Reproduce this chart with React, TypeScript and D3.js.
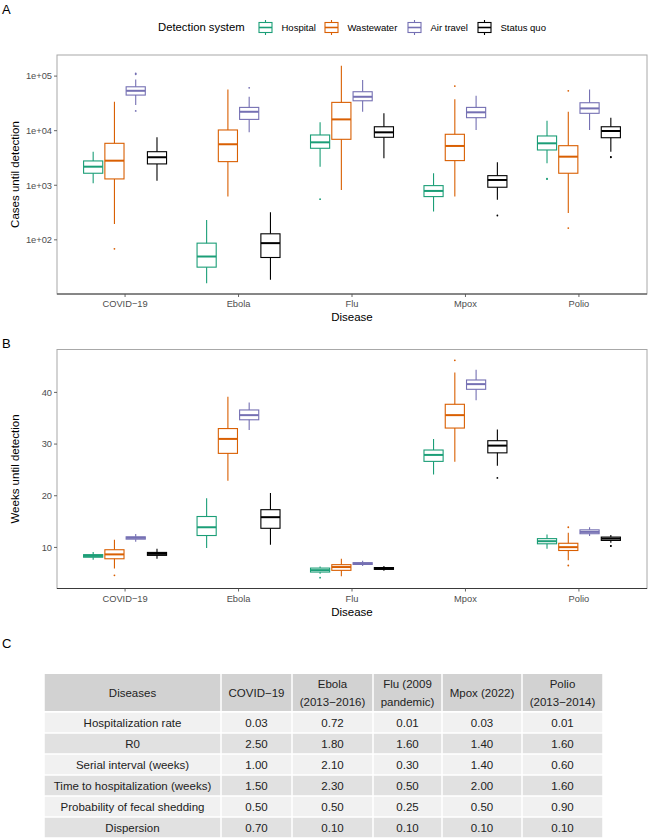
import * as d3 from 'd3';

// categories / series
const diseases = ['COVID−19', 'Ebola', 'Flu', 'Mpox', 'Polio'];
const systems = ['Hospital', 'Wastewater', 'Air travel', 'Status quo'];
const systemColors = ['#1B9E77', '#D95F02', '#7570B3', '#000000'];

// box stats per disease: [lower whisker, q1, median, q3, upper whisker]
const casesHospital = [[1090, 1660, 2190, 2790, 4120], [16.1, 31.6, 49.5, 87, 232], [2190, 4760, 6120, 8340, 14200], [330, 620, 787, 985, 1660], [2530, 4430, 5870, 8000, 15200]];
const casesWastewater = [[196, 1306, 2820, 5870, 33900], [620, 2710, 5640, 10300, 57100], [822, 6950, 16100, 33000, 154000], [620, 2830, 5250, 8590, 37500], [309, 1660, 3340, 5310, 22200]];
const casesAirTravel = [[29500, 44900, 53800, 63700, 87000], [9330, 16100, 22200, 26700, 41800], [22200, 35300, 41800, 51700, 84500], [10300, 17300, 21700, 26700, 43600], [10300, 20800, 25600, 32500, 57100]];
const casesStatusQuo = [[1215, 2460, 3260, 4120, 7570], [18.5, 47.5, 87, 129, 321], [3130, 7570, 9330, 11800, 20800], [540, 920, 1250, 1500, 2640], [4120, 7430, 9870, 11800, 17300]];

// outliers per disease
const casesOutHospital = [[], [], [556], [], [1300, 1320]];
const casesOutWastewater = [[68.6], [], [], [65700], [53800, 164]];
const casesOutAirTravel = [[112000, 108000, 23000], [61000], [], [], []];
const casesOutStatusQuo = [[], [], [], [279], [3260, 3300]];

const weeksHospital = [[7.6, 8.1, 8.35, 8.6, 9.1], [9.9, 12.3, 13.9, 15.98, 19.5], [4.9, 5.23, 5.6, 6.0, 6.3], [24.1, 26.65, 27.9, 28.85, 31.0], [9.75, 10.7, 11.2, 11.7, 12.5]];
const weeksWastewater = [[5.9, 7.8, 8.65, 9.55, 11.5], [22.9, 28.2, 31.0, 33.0, 39.15], [4.4, 5.56, 6.2, 6.66, 7.8], [26.6, 33.1, 35.6, 37.7, 43.85], [7.5, 9.4, 10.05, 10.8, 12.85]];
const weeksAirTravel = [[11.1, 11.6, 11.85, 12.05, 12.6], [32.7, 34.7, 35.6, 36.6, 38.05], [6.4, 6.7, 6.85, 7.05, 7.4], [38.5, 40.6, 41.6, 42.4, 44.4], [12.2, 12.65, 13.0, 13.4, 13.9]];
const weeksStatusQuo = [[7.8, 8.46, 8.75, 9.03, 9.75], [10.5, 13.7, 15.85, 17.3, 20.55], [5.5, 5.75, 5.9, 6.1, 6.4], [25.8, 28.3, 29.7, 30.65, 32.8], [10.9, 11.35, 11.7, 12.0, 12.4]];

const weeksOutHospital = [[], [], [4.15], [], []];
const weeksOutWastewater = [[4.6], [], [], [46.2], [6.5, 13.9]];
const weeksOutAirTravel = [[], [], [], [], []];
const weeksOutStatusQuo = [[], [], [], [23.45], [10.25, 10.3]];

// tick labels
const casesTicks = [100, 1000, 10000, 100000];
const casesTickLabels = ['1e+02', '1e+03', '1e+04', '1e+05'];
const weeksTicks = [10, 20, 30, 40];

// table
const tableHeader = ['Diseases', 'COVID−19', 'Ebola\n(2013−2016)', 'Flu (2009\npandemic)', 'Mpox (2022)', 'Polio\n(2013−2014)'];
const tableParams = ['Hospitalization rate', 'R0', 'Serial interval (weeks)', 'Time to hospitalization (weeks)', 'Probability of fecal shedding', 'Dispersion'];
const covidParams = [0.03, 2.5, 1.0, 1.5, 0.5, 0.7];
const ebolaParams = [0.72, 1.8, 2.1, 2.3, 0.5, 0.1];
const fluParams = [0.01, 1.6, 0.3, 0.5, 0.25, 0.1];
const mpoxParams = [0.03, 1.4, 1.4, 2.0, 0.5, 0.1];
const polioParams = [0.01, 1.6, 0.6, 1.6, 0.9, 0.1];

const FONT = '"Liberation Sans", Arial, sans-serif';
const W = 648;
const H = 840;
const plotLeft = 57;
const plotRight = 647;

type Stat = number[];

interface PanelProps {
  top: number;
  bottom: number;
  log: boolean;
  stats: Stat[][];
  outliers: number[][][];
  ticks: number[];
  tickLabels: string[];
  yTitle: string;
}

const Panel = ({ top, bottom, log, stats, outliers, ticks, tickLabels, yTitle }: PanelProps) => {
  const all = stats.flat(2).concat(outliers.flat(2));
  const tf = (v: number) => (log ? Math.log10(v) : v);
  const lo = tf(d3.min(all)!);
  const hi = tf(d3.max(all)!);
  const pad = (hi - lo) * 0.05;
  const y = log
    ? d3.scaleLog().domain([10 ** (lo - pad), 10 ** (hi + pad)]).range([bottom, top])
    : d3.scaleLinear().domain([lo - pad, hi + pad]).range([bottom, top]);

  const x = d3.scaleBand().domain(diseases).range([plotLeft, plotRight]).paddingInner(0.25).paddingOuter(0.225);
  const xs = d3.scaleBand().domain(systems).range([0, x.bandwidth()]).paddingInner(0.1).paddingOuter(0.05);
  const bw = xs.bandwidth();

  return (
    <g>
      <rect x={plotLeft} y={top} width={plotRight - plotLeft} height={bottom - top} fill="#fff" stroke="#a8a8a8" strokeWidth={1} />
      <line x1={plotLeft} x2={plotRight} y1={bottom} y2={bottom} stroke="#3a3a3a" strokeWidth={1.1} />
      {ticks.map((t, i) => (
        <g key={t}>
          <line x1={plotLeft - 3} x2={plotLeft} y1={y(t)} y2={y(t)} stroke="#555" strokeWidth={0.9} />
          <text x={plotLeft - 5} y={y(t)} dy="0.35em" textAnchor="end" fontSize={9.3} fill="#4d4d4d">{tickLabels[i]}</text>
        </g>
      ))}
      {diseases.map((d) => {
        const cx = x(d)! + x.bandwidth() / 2;
        return (
          <g key={d}>
            <line x1={cx} x2={cx} y1={bottom} y2={bottom + 3} stroke="#555" strokeWidth={0.9} />
            <text x={cx} y={bottom + 13.3} textAnchor="middle" fontSize={9.3} fill="#4d4d4d">{d}</text>
          </g>
        );
      })}
      {systems.map((s, si) =>
        diseases.map((d, di) => {
          const [w0, q1, med, q3, w1] = stats[si][di];
          const x0 = x(d)! + xs(s)!;
          const cx = x0 + bw / 2;
          const col = systemColors[si];
          return (
            <g key={s + d}>
              <line x1={cx} x2={cx} y1={y(w1)} y2={y(q3)} stroke={col} strokeWidth={1.1} />
              <line x1={cx} x2={cx} y1={y(q1)} y2={y(w0)} stroke={col} strokeWidth={1.1} />
              <rect x={x0} y={y(q3)} width={bw} height={y(q1) - y(q3)} fill="none" stroke={col} strokeWidth={1.1} />
              <line x1={x0} x2={x0 + bw} y1={y(med)} y2={y(med)} stroke={col} strokeWidth={2} />
              {outliers[si][di].map((v, k) => (
                <circle key={k} cx={cx} cy={y(v)} r={0.9} fill={col} />
              ))}
            </g>
          );
        }),
      )}
      <text transform={`translate(19,${(top + bottom) / 2}) rotate(-90)`} textAnchor="middle" fontSize={11.5} fill="#000">{yTitle}</text>
      <text x={(plotLeft + plotRight) / 2} y={bottom + 27} textAnchor="middle" fontSize={11.5} fill="#000">Disease</text>
    </g>
  );
};

const legendKeyX = [258, 324, 407, 477];

const Legend = () => (
  <g>
    <text x={158} y={31.3} fontSize={11.3} fill="#000">Detection system</text>
    {systems.map((s, i) => {
      const kx = legendKeyX[i];
      const col = systemColors[i];
      return (
        <g key={s}>
          <line x1={kx + 7.5} x2={kx + 7.5} y1={20} y2={35} stroke={col} strokeWidth={1.1} />
          <rect x={kx + 1} y={22.5} width={13} height={10} fill="#fff" stroke={col} strokeWidth={1.1} />
          <line x1={kx + 1} x2={kx + 14} y1={27.5} y2={27.5} stroke={col} strokeWidth={1.6} />
          <text x={kx + 23.5} y={30.8} fontSize={9.5} fill="#000">{s}</text>
        </g>
      );
    })}
  </g>
);

const colWidths = [177, 71, 81, 69, 80, 81];
const tableLeft = 44;
const tableTop = 674;
const headerH = 38;
const rowH = 21;

const Table = () => {
  const colX = colWidths.reduce<number[]>((acc, w, i) => acc.concat(acc[i] + w), [tableLeft]);
  const columns = [covidParams, ebolaParams, fluParams, mpoxParams, polioParams];
  const rowY = d3.range(tableParams.length).map((i) => tableTop + headerH + i * rowH);
  return (
    <g fontSize={11.5} fill="#222">
      {tableHeader.map((h, c) => {
        const lines = h.split('\n');
        const cx = (colX[c] + colX[c + 1]) / 2;
        const cy = tableTop + headerH / 2;
        return (
          <g key={h}>
            <rect x={colX[c] + 0.75} y={tableTop} width={colWidths[c] - 1.5} height={headerH - 1} fill="#d2d2d2" />
            {lines.map((l, k) => (
              <text key={k} x={cx} y={cy + (k - (lines.length - 1) / 2) * 18} dy="0.36em" textAnchor="middle" fill="#222">{l}</text>
            ))}
          </g>
        );
      })}
      {tableParams.map((p, r) => {
        const fill = r % 2 === 0 ? '#f1f1f1' : '#e1e1e1';
        const cells = [p].concat(columns.map((col) => col[r].toFixed(2)));
        return (
          <g key={p}>
            {cells.map((v, c) => (
              <g key={c}>
                <rect x={colX[c] + 0.75} y={rowY[r] + 0.75} width={colWidths[c] - 1.5} height={rowH - 1.5} fill={fill} />
                <text x={(colX[c] + colX[c + 1]) / 2} y={rowY[r] + rowH / 2} dy="0.36em" textAnchor="middle" fill="#222">{v}</text>
              </g>
            ))}
          </g>
        );
      })}
    </g>
  );
};

const App = () => {
  const casesStats = [casesHospital, casesWastewater, casesAirTravel, casesStatusQuo];
  const casesOut = [casesOutHospital, casesOutWastewater, casesOutAirTravel, casesOutStatusQuo];
  const weeksStats = [weeksHospital, weeksWastewater, weeksAirTravel, weeksStatusQuo];
  const weeksOut = [weeksOutHospital, weeksOutWastewater, weeksOutAirTravel, weeksOutStatusQuo];

  return (
    <div style={{ position: 'absolute', left: 0, top: 0 }}>
      <svg width={W} height={H} viewBox={`0 0 ${W} ${H}`} style={{ display: 'block', fontFamily: FONT }}>
        <rect width={W} height={H} fill="#fff" />
        <text x={2} y={14} fontSize={13} fill="#000">A</text>
        <text x={2} y={348} fontSize={13} fill="#000">B</text>
        <text x={2} y={648} fontSize={13} fill="#000">C</text>
        <Legend />
        <Panel top={55} bottom={294} log stats={casesStats} outliers={casesOut} ticks={casesTicks} tickLabels={casesTickLabels} yTitle="Cases until detection" />
        <Panel top={349.5} bottom={588.5} log={false} stats={weeksStats} outliers={weeksOut} ticks={weeksTicks} tickLabels={weeksTicks.map(String)} yTitle="Weeks until detection" />
        <Table />
      </svg>
    </div>
  );
};

export default App;
